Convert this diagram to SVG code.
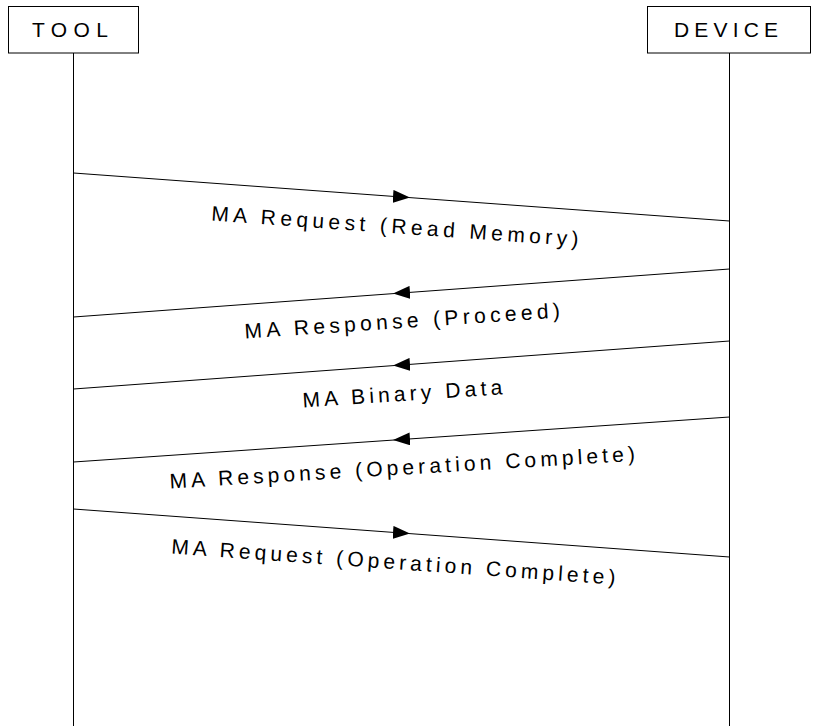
<svg xmlns="http://www.w3.org/2000/svg" width="815" height="726" viewBox="0 0 815 726">
  <style>
    .box { fill: #ffffff; stroke: #000000; stroke-width: 1; }
    .life { stroke: #000000; stroke-width: 1; fill: none; }
    .msg { stroke: #000000; stroke-width: 1; fill: none; marker-mid: url(#head); }
    .hdr { font-family: "Liberation Sans", Arial, sans-serif; font-size: 21px; fill: #000000; }
    .lbl { font-family: "Liberation Sans", Arial, sans-serif; font-size: 21px; fill: #000000; }
  </style>
  <defs>
    <marker id="head" markerUnits="userSpaceOnUse" markerWidth="17" markerHeight="13" viewBox="0 0 17 13" refX="8.5" refY="6.5" orient="auto">
      <path d="M0,0 L17,6.5 L0,13 Z" fill="#000000"/>
    </marker>
  </defs>
  <rect width="815" height="726" fill="#ffffff"/>

  <!-- participants -->
  <g id="tool">
    <rect class="box" x="8.5" y="6.5" width="130" height="46.5"/>
    <text class="hdr" x="32" y="36.5" textLength="76" lengthAdjust="spacing">TOOL</text>
    <line class="life" x1="73.5" y1="53" x2="73.5" y2="726"/>
  </g>
  <g id="device">
    <rect class="box" x="647.5" y="6.5" width="163" height="46.5"/>
    <text class="hdr" x="674" y="36.5" textLength="104" lengthAdjust="spacing">DEVICE</text>
    <line class="life" x1="729.5" y1="53" x2="729.5" y2="726"/>
  </g>

  <!-- messages -->
  <g id="connectors">
    <path class="msg" d="M73.5,173 L401.5,197 L729.5,221"/>
    <path class="msg" d="M729.5,269 L401.5,293 L73.5,317"/>
    <path class="msg" d="M729.5,341 L401.5,365 L73.5,389"/>
    <path class="msg" d="M729.5,417 L401.5,439.5 L73.5,462"/>
    <path class="msg" d="M73.5,509 L401.5,533 L729.5,557"/>
  </g>

  <!-- message labels -->
  <g id="labels">
    <text class="lbl" x="211" y="220.5" transform="rotate(4 211 220.5)" textLength="368" lengthAdjust="spacing">MA Request (Read Memory)</text>
    <text class="lbl" x="245" y="338.5" transform="rotate(-3.8 245 338.5)" textLength="316" lengthAdjust="spacing">MA Response (Proceed)</text>
    <text class="lbl" x="303" y="407.5" transform="rotate(-3.8 303 407.5)" textLength="200" lengthAdjust="spacing">MA Binary Data</text>
    <text class="lbl" x="170" y="488.5" transform="rotate(-3.4 170 488.5)" textLength="466" lengthAdjust="spacing">MA Response (Operation Complete)</text>
    <text class="lbl" x="171" y="553.5" transform="rotate(4 171 553.5)" textLength="445" lengthAdjust="spacing">MA Request (Operation Complete)</text>
  </g>
</svg>
